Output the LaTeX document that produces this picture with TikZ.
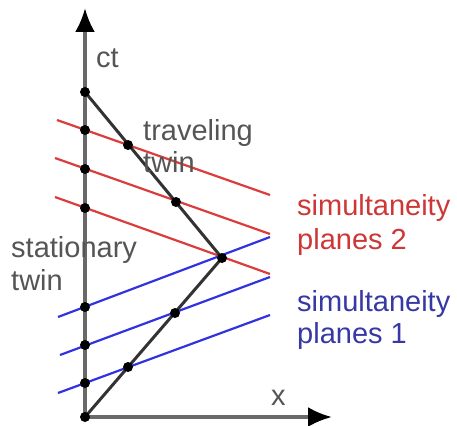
\documentclass[tikz,border=0pt]{standalone}
\usepackage{fontspec}
\setmainfont{Liberation Sans}
\usetikzlibrary{arrows.meta}
\definecolor{axisgray}{RGB}{105,105,105}
\definecolor{txtgray}{RGB}{85,85,85}
\definecolor{redline}{RGB}{220,60,60}
\definecolor{redtxt}{RGB}{205,55,55}
\definecolor{blueline}{RGB}{50,50,225}
\definecolor{bluetxt}{RGB}{55,55,165}
\tikzset{
  axisline/.style={draw=axisgray, line width=3.6pt, -{Latex[length=24pt,width=20pt,color=black]}},
  worldline/.style={draw=black!80, line width=3pt},
  redplane/.style={draw=redline, line width=2.2pt},
  blueplane/.style={draw=blueline, line width=2.2pt},
  evt/.style={circle, fill=black, inner sep=0pt, minimum size=10pt},
  lbl/.style={anchor=base west, inner sep=0pt, font=\fontsize{29}{33}\selectfont},
}
\begin{document}
\begin{tikzpicture}[x=1pt,y=-1pt]
\useasboundingbox (0,0) rectangle (457,425);
% coordinates
\coordinate (O) at (85,417);
\coordinate (ctend) at (85,8);
\coordinate (xend) at (332,417);
\coordinate (T) at (222,258);
\coordinate (S) at (85,92);
% red planes
\coordinate (r1a) at (57,120); \coordinate (r1b) at (270,195);
\coordinate (r2a) at (55,158); \coordinate (r2b) at (270,234);
\coordinate (r3a) at (55,197); \coordinate (r3b) at (270,274);
% blue planes
\coordinate (b1a) at (58,317); \coordinate (b1b) at (270,237);
\coordinate (b2a) at (60,355); \coordinate (b2b) at (270,277);
\coordinate (b3a) at (58,393); \coordinate (b3b) at (270,315);
% axes
\draw[axisline] (O) -- (ctend);
\draw[axisline] (O) -- (xend);
% planes
\draw[redplane] (r1a) -- (r1b);
\draw[redplane] (r2a) -- (r2b);
\draw[redplane] (r3a) -- (r3b);
\draw[blueplane] (b1a) -- (b1b);
\draw[blueplane] (b2a) -- (b2b);
\draw[blueplane] (b3a) -- (b3b);
% world line of traveling twin
\draw[worldline] (O) -- (T) -- (S);
% events
\node[evt] (e0) at (O) {};
\node[evt] (eS) at (S) {};
\node[evt] (eT) at (T) {};
\node[evt] (s1) at (85,130) {};
\node[evt] (s2) at (85,169) {};
\node[evt] (s3) at (85,208) {};
\node[evt] (s4) at (85,307) {};
\node[evt] (s5) at (85,345) {};
\node[evt] (s6) at (85,383) {};
\node[evt] (t1) at (128,145) {};
\node[evt] (t2) at (176,202) {};
\node[evt] (t3) at (175,313) {};
\node[evt] (t4) at (128,367) {};
% labels
\node[lbl, text=txtgray] (ct) at (96,68) {ct};
\node[lbl, text=txtgray] (xl) at (271,405) {x};
\node[lbl, text=txtgray] (tr1) at (143,140) {traveling};
\node[lbl, text=txtgray] (tr2) at (143,172) {twin};
\node[lbl, text=txtgray] (st1) at (11,257) {stationary};
\node[lbl, text=txtgray] (st2) at (11,290) {twin};
\node[lbl, text=redtxt] (p21) at (297,215) {simultaneity};
\node[lbl, text=redtxt] (p22) at (297,249) {planes 2};
\node[lbl, text=bluetxt] (p11) at (297,311) {simultaneity};
\node[lbl, text=bluetxt] (p12) at (297,343) {planes 1};
\end{tikzpicture}
\end{document}
